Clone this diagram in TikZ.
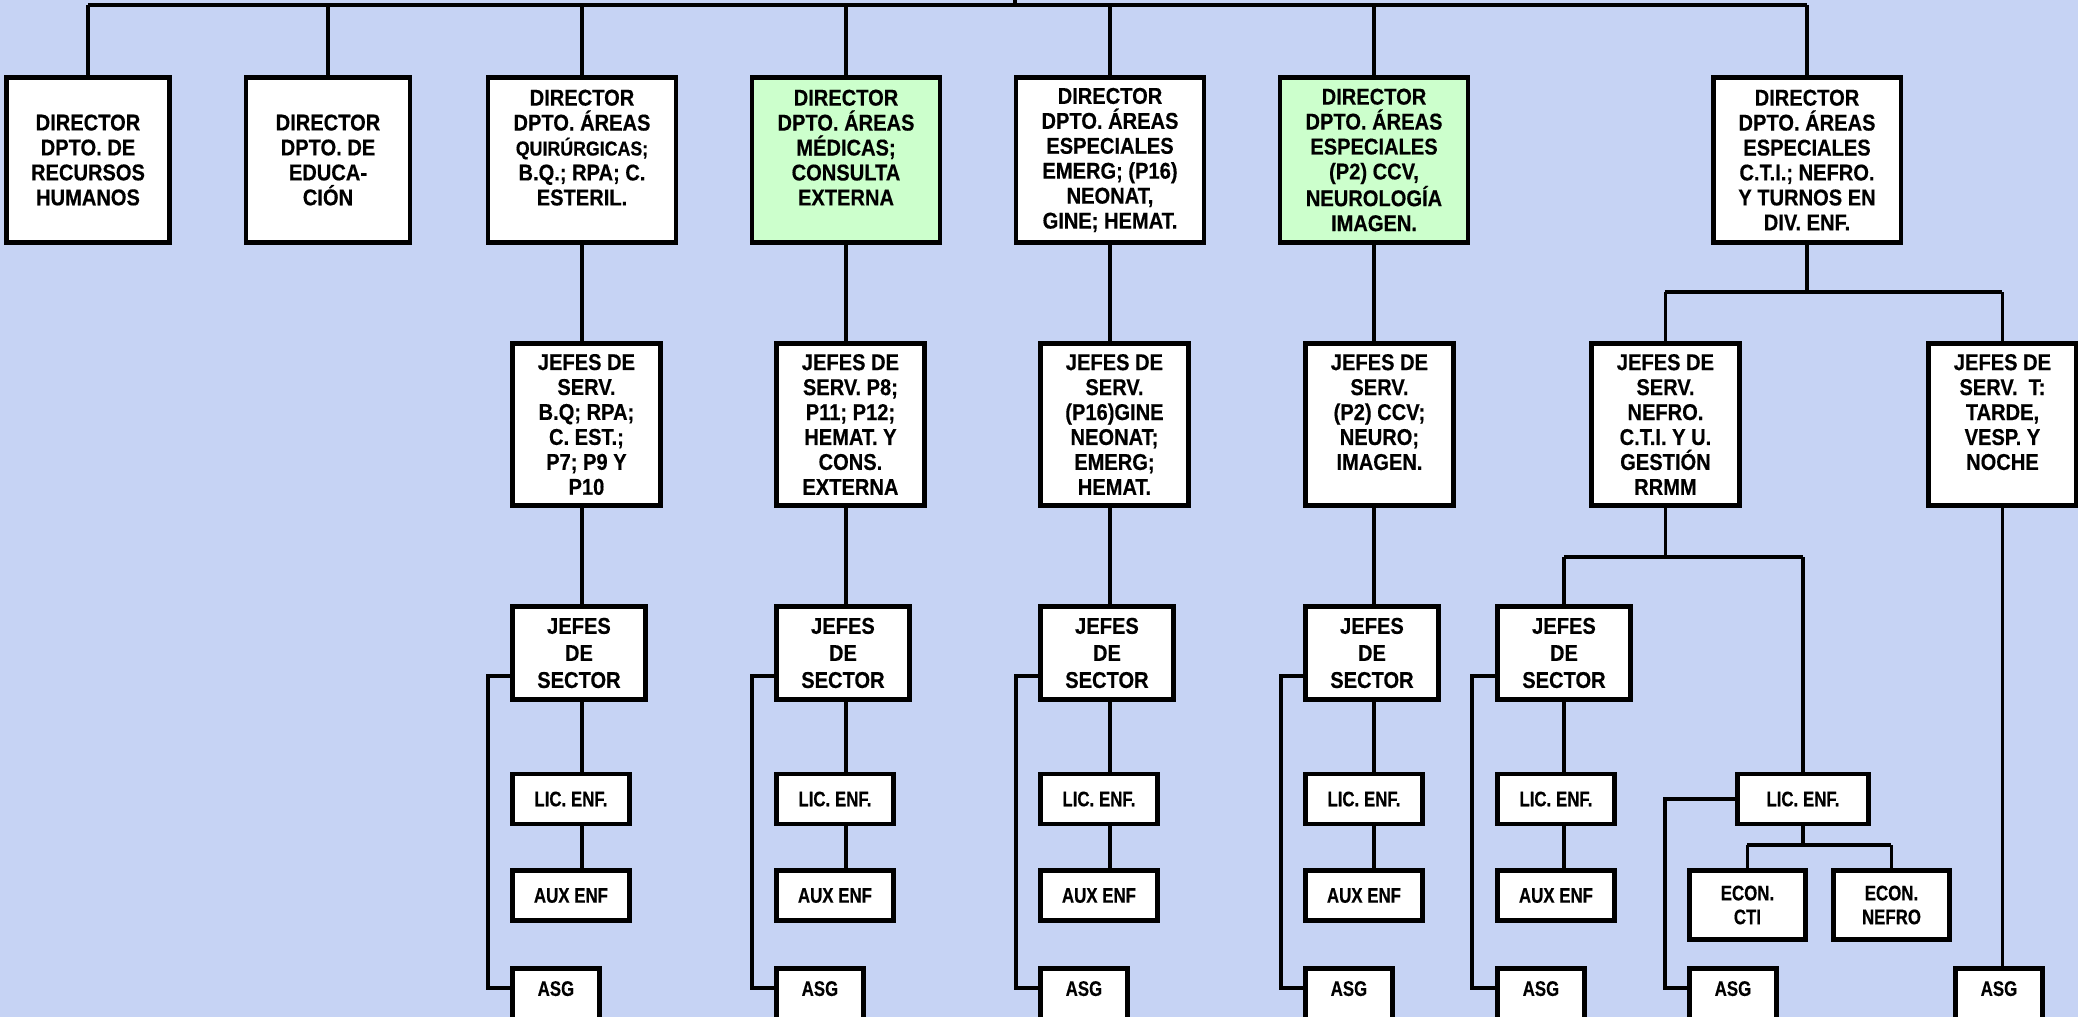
\documentclass[tikz,border=0pt]{standalone}
\usepackage{fontspec}
\setmainfont{Liberation Sans}[FakeStretch=0.88, FakeBold=0.4]
\newfontfamily\narrowfont{Liberation Sans}[FakeStretch=0.8, FakeBold=0.4]
\definecolor{bgblue}{RGB}{198,211,244}
\definecolor{dirgreen}{RGB}{204,255,204}

\begin{document}
\begin{tikzpicture}[
  x=0.02cm, y=-0.02cm,
  box/.style={draw, line width=2.8pt, fill=white, align=center, inner sep=0pt, font=\bfseries\fontsize{13}{14.2}\selectfont},
  dirbox/.style={box, minimum width=3.76cm, minimum height=3.3cm},
  greenbox/.style={dirbox, fill=dirgreen},
  jefebox/.style={box, anchor=west, minimum width=2.96cm, minimum height=3.24cm},
  sectbox/.style={box, anchor=west, minimum width=2.66cm, minimum height=1.86cm, font=\bfseries\fontsize{13}{15.4}\selectfont},
  smallbox/.style={box, anchor=west, minimum width=2.34cm, minimum height=1.0cm, font=\narrowfont\bfseries\fontsize{12}{13.6}\selectfont},
  asgbox/.style={smallbox, minimum width=1.74cm, minimum height=1.1cm, text depth=0.3cm},
  econbox/.style={smallbox, minimum width=2.32cm, minimum height=1.38cm},
  link/.style={line width=2pt}
]
\fill[bgblue] (0,0) rectangle (2078,1017);
\useasboundingbox (0,0) rectangle (2078,1017);

\node[dirbox, minimum width=3.26cm] (rrhh) at (88,160) {DIRECTOR\\DPTO. DE\\RECURSOS\\HUMANOS};
\node[dirbox, minimum width=3.28cm] (educ) at (328,160) {DIRECTOR\\DPTO. DE\\EDUCA-\\CIÓN};
\node[dirbox] (quir) at (582,160) {DIRECTOR\\DPTO. ÁREAS\\{\fontsize{11.5}{14.2}\selectfont QUIRÚRGICAS;}\\B.Q.; RPA; C.\\ESTERIL.\\~};
\node[greenbox] (med) at (846,160) {DIRECTOR\\DPTO. ÁREAS\\MÉDICAS;\\CONSULTA\\EXTERNA\\~};
\node[dirbox] (emerg) at (1110,160) {DIRECTOR\\DPTO. ÁREAS\\ESPECIALES\\EMERG; (P16)\\NEONAT,\\GINE; HEMAT.};
\node[greenbox] (neuro) at (1374,160) {DIRECTOR\\DPTO. ÁREAS\\ESPECIALES\\(P2) CCV,\\NEUROLOGÍA\\IMAGEN.};
\node[dirbox] (cti) at (1807,160) {DIRECTOR\\DPTO. ÁREAS\\ESPECIALES\\C.T.I.; NEFRO.\\Y TURNOS EN\\DIV. ENF.};

\node[jefebox] (jquir) at (510,424.5) {JEFES DE\\SERV.\\B.Q; RPA;\\C. EST.;\\P7; P9 Y\\P10};
\node[jefebox] (jmed) at (774,424.5) {JEFES DE\\SERV. P8;\\P11; P12;\\HEMAT. Y\\CONS.\\EXTERNA};
\node[jefebox] (jemerg) at (1038,424.5) {JEFES DE\\SERV.\\(P16)GINE\\NEONAT;\\EMERG;\\HEMAT.};
\node[jefebox] (jneuro) at (1303,424.5) {JEFES DE\\SERV.\\(P2) CCV;\\NEURO;\\IMAGEN.\\~};
\node[jefebox] (jnefro) at (1589,424.5) {JEFES DE\\SERV.\\NEFRO.\\C.T.I. Y U.\\GESTIÓN\\RRMM};
\node[jefebox] (jturno) at (1926,424.5) {JEFES DE\\SERV.~ T:\\TARDE,\\VESP. Y\\NOCHE\\~};

\node[sectbox] (squir) at (510,653) {JEFES\\DE\\SECTOR};
\node[sectbox] (smed) at (774,653) {JEFES\\DE\\SECTOR};
\node[sectbox] (semerg) at (1038,653) {JEFES\\DE\\SECTOR};
\node[sectbox] (sneuro) at (1303,653) {JEFES\\DE\\SECTOR};
\node[sectbox] (snefro) at (1495,653) {JEFES\\DE\\SECTOR};

\node[smallbox] (lquir) at (510,799) {LIC. ENF.};
\node[smallbox] (lmed) at (774,799) {LIC. ENF.};
\node[smallbox] (lemerg) at (1038,799) {LIC. ENF.};
\node[smallbox] (lneuro) at (1303,799) {LIC. ENF.};
\node[smallbox] (lnefro) at (1495,799) {LIC. ENF.};
\node[smallbox, minimum width=2.62cm] (lcti) at (1735,799) {LIC. ENF.};

\node[smallbox] (aquir) at (510,895.5) {AUX ENF};
\node[smallbox] (amed) at (774,895.5) {AUX ENF};
\node[smallbox] (aemerg) at (1038,895.5) {AUX ENF};
\node[smallbox] (aneuro) at (1303,895.5) {AUX ENF};
\node[smallbox] (anefro) at (1495,895.5) {AUX ENF};
\node[econbox] (ecti) at (1687,905) {ECON.\\CTI};
\node[econbox] (enefro) at (1831,905) {ECON.\\NEFRO};

\node[asgbox] (gquir) at (510,996) {ASG};
\node[asgbox] (gmed) at (774,996) {ASG};
\node[asgbox] (gemerg) at (1038,996) {ASG};
\node[asgbox] (gneuro) at (1303,996) {ASG};
\node[asgbox] (gnefro) at (1495,996) {ASG};
\node[asgbox] (gcti) at (1687,996) {ASG};
\node[asgbox] (gturno) at (1953,996) {ASG};

\coordinate (top) at (1015,-5);
\coordinate (bus) at (0,5);
\coordinate (split) at (0,292);
\coordinate (splitb) at (0,557);
\coordinate (splitc) at (0,845);
\coordinate (asgline) at (0,988);

\draw[link] (top) -- (top |- bus);
\draw[link] (rrhh.north |- bus) -- (cti.north |- bus);
\draw[link] (rrhh.north |- bus) -- (rrhh.north);
\draw[link] (educ.north |- bus) -- (educ.north);
\draw[link] (quir.north |- bus) -- (quir.north);
\draw[link] (med.north |- bus) -- (med.north);
\draw[link] (emerg.north |- bus) -- (emerg.north);
\draw[link] (neuro.north |- bus) -- (neuro.north);
\draw[link] (cti.north |- bus) -- (cti.north);

\draw[link] (quir.south) -- (quir.south |- jquir.north);
\draw[link] (quir.south |- jquir.south) -- (quir.south |- squir.north);
\draw[link] (quir.south |- squir.south) -- (quir.south |- lquir.north);
\draw[link] (quir.south |- lquir.south) -- (quir.south |- aquir.north);
\draw[link] (squir.west) ++(0,23) -- ++(-22,0) |- (gquir.west |- asgline);

\draw[link] (med.south) -- (med.south |- jmed.north);
\draw[link] (med.south |- jmed.south) -- (med.south |- smed.north);
\draw[link] (med.south |- smed.south) -- (med.south |- lmed.north);
\draw[link] (med.south |- lmed.south) -- (med.south |- amed.north);
\draw[link] (smed.west) ++(0,23) -- ++(-22,0) |- (gmed.west |- asgline);

\draw[link] (emerg.south) -- (emerg.south |- jemerg.north);
\draw[link] (emerg.south |- jemerg.south) -- (emerg.south |- semerg.north);
\draw[link] (emerg.south |- semerg.south) -- (emerg.south |- lemerg.north);
\draw[link] (emerg.south |- lemerg.south) -- (emerg.south |- aemerg.north);
\draw[link] (semerg.west) ++(0,23) -- ++(-22,0) |- (gemerg.west |- asgline);

\draw[link] (neuro.south) -- (neuro.south |- jneuro.north);
\draw[link] (neuro.south |- jneuro.south) -- (neuro.south |- sneuro.north);
\draw[link] (neuro.south |- sneuro.south) -- (neuro.south |- lneuro.north);
\draw[link] (neuro.south |- lneuro.south) -- (neuro.south |- aneuro.north);
\draw[link] (sneuro.west) ++(0,23) -- ++(-22,0) |- (gneuro.west |- asgline);

\draw[link] (cti.south) -- (cti.south |- split);
\draw[link] (jnefro.north |- split) -- (jturno.north |- split);
\draw[link] (jnefro.north |- split) -- (jnefro.north);
\draw[link] (jturno.north |- split) -- (jturno.north);
\draw[link] (jturno.south) -- (jturno.south |- gturno.north);

\draw[link] (jnefro.south) -- (jnefro.south |- splitb);
\draw[link] (snefro.north |- splitb) -- (lcti.north |- splitb);
\draw[link] (snefro.north |- splitb) -- (snefro.north);
\draw[link] (lcti.north |- splitb) -- (lcti.north);
\draw[link] (snefro.south) -- (snefro.south |- lnefro.north);
\draw[link] (snefro.south |- lnefro.south) -- (snefro.south |- anefro.north);
\draw[link] (snefro.west) ++(0,23) -- ++(-23,0) |- (gnefro.west |- asgline);

\draw[link] (lcti.south) -- (lcti.south |- splitc);
\draw[link] (ecti.north |- splitc) -- (enefro.north |- splitc);
\draw[link] (ecti.north |- splitc) -- (ecti.north);
\draw[link] (enefro.north |- splitc) -- (enefro.north);
\draw[link] (lcti.west) -- ++(-70,0) |- (gcti.west |- asgline);
\end{tikzpicture}
\end{document}
